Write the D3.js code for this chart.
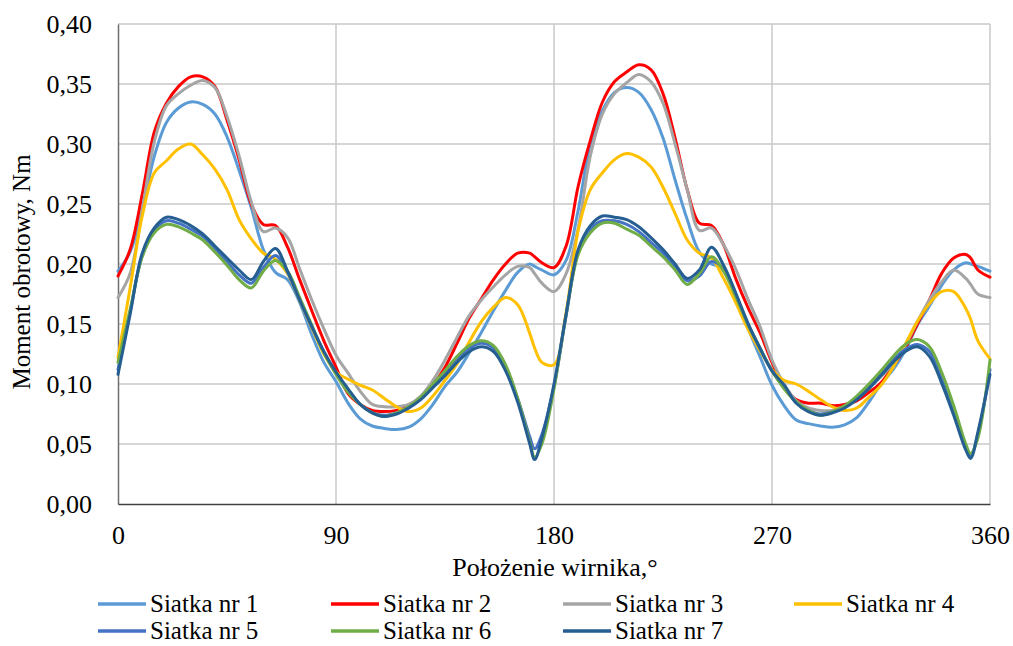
<!DOCTYPE html>
<html>
<head>
<meta charset="utf-8">
<script src="https://cdn.jsdelivr.net/npm/d3@7/dist/d3.min.js"></script>
<style>
  html, body { margin: 0; padding: 0; background: #fff; }
  svg { display: block; }
  svg text { font-family: "Liberation Serif", "Times New Roman", Tinos, "Nimbus Roman", "DejaVu Serif", serif; fill: #000; }
</style>
</head>
<body>
<svg id="chart" width="1013" height="646"></svg>
<script>
// Rotor angle, degrees
const angles = [0,5,10,15,20,25,30,35,40,45,50,55,60,65,70,75,80,85,90,95,100,105,110,115,120,125,130,135,140,145,150,155,160,165,170,172,175,180,185,190,195,200,205,210,215,220,225,230,235,240,245,250,255,260,265,270,275,280,285,290,295,300,305,310,315,320,325,330,335,340,345,350,352,355,360];

// Torque, Nm, for each mesh
const siatka1 = [0.194,0.210,0.245,0.290,0.318,0.330,0.335,0.333,0.325,0.306,0.278,0.247,0.212,0.193,0.187,0.168,0.141,0.118,0.102,0.084,0.071,0.065,0.063,0.062,0.064,0.071,0.083,0.098,0.110,0.126,0.143,0.161,0.178,0.193,0.200,0.198,0.195,0.191,0.203,0.245,0.300,0.328,0.343,0.347,0.343,0.329,0.305,0.270,0.237,0.210,0.200,0.197,0.172,0.147,0.123,0.099,0.082,0.070,0.067,0.065,0.064,0.066,0.072,0.085,0.100,0.112,0.128,0.149,0.165,0.182,0.195,0.201,0.200,0.198,0.194];
const siatka2 = [0.190,0.212,0.258,0.310,0.334,0.348,0.356,0.356,0.348,0.320,0.287,0.250,0.233,0.232,0.214,0.187,0.161,0.136,0.114,0.092,0.083,0.078,0.077,0.078,0.081,0.088,0.099,0.114,0.134,0.155,0.171,0.187,0.200,0.209,0.209,0.206,0.201,0.197,0.215,0.265,0.303,0.335,0.352,0.360,0.366,0.362,0.342,0.305,0.262,0.234,0.232,0.216,0.188,0.164,0.143,0.118,0.097,0.087,0.084,0.084,0.082,0.083,0.086,0.093,0.101,0.115,0.130,0.150,0.170,0.192,0.205,0.208,0.205,0.195,0.189];
const siatka3 = [0.172,0.192,0.245,0.302,0.332,0.342,0.349,0.353,0.347,0.323,0.290,0.252,0.227,0.230,0.222,0.196,0.170,0.146,0.124,0.109,0.094,0.083,0.081,0.081,0.083,0.090,0.103,0.120,0.139,0.157,0.170,0.181,0.191,0.198,0.197,0.192,0.184,0.177,0.192,0.230,0.290,0.325,0.342,0.351,0.358,0.352,0.334,0.300,0.262,0.228,0.230,0.216,0.196,0.171,0.148,0.120,0.100,0.086,0.080,0.078,0.078,0.081,0.088,0.097,0.106,0.117,0.132,0.152,0.170,0.185,0.195,0.188,0.183,0.175,0.172];
const siatka4 = [0.122,0.180,0.240,0.276,0.286,0.296,0.300,0.291,0.279,0.262,0.237,0.221,0.209,0.204,0.192,0.170,0.147,0.125,0.110,0.104,0.099,0.095,0.088,0.081,0.077,0.080,0.090,0.103,0.117,0.135,0.152,0.164,0.172,0.166,0.142,0.130,0.118,0.116,0.160,0.228,0.262,0.276,0.287,0.292,0.289,0.281,0.264,0.242,0.220,0.209,0.205,0.188,0.168,0.146,0.128,0.112,0.103,0.100,0.094,0.087,0.081,0.078,0.080,0.089,0.099,0.114,0.133,0.152,0.167,0.177,0.177,0.163,0.154,0.136,0.121];
const siatka5 = [0.112,0.160,0.207,0.228,0.236,0.234,0.229,0.223,0.213,0.202,0.191,0.184,0.197,0.207,0.193,0.171,0.148,0.127,0.109,0.095,0.083,0.076,0.074,0.076,0.080,0.088,0.098,0.109,0.121,0.130,0.134,0.130,0.114,0.088,0.056,0.046,0.058,0.098,0.157,0.210,0.229,0.236,0.236,0.233,0.227,0.218,0.209,0.197,0.186,0.190,0.202,0.196,0.174,0.150,0.130,0.111,0.097,0.085,0.078,0.075,0.077,0.081,0.088,0.098,0.109,0.120,0.129,0.133,0.127,0.105,0.077,0.047,0.040,0.058,0.112];
const siatka6 = [0.118,0.162,0.206,0.226,0.233,0.231,0.226,0.220,0.210,0.199,0.187,0.180,0.194,0.203,0.194,0.172,0.149,0.126,0.108,0.093,0.083,0.076,0.073,0.076,0.081,0.089,0.100,0.111,0.123,0.132,0.136,0.132,0.116,0.088,0.052,0.039,0.050,0.096,0.158,0.208,0.226,0.234,0.234,0.229,0.224,0.215,0.206,0.195,0.183,0.192,0.206,0.194,0.173,0.150,0.130,0.111,0.096,0.085,0.078,0.074,0.077,0.082,0.090,0.100,0.111,0.123,0.133,0.137,0.131,0.110,0.082,0.050,0.042,0.055,0.120];
const siatka7 = [0.108,0.158,0.209,0.230,0.239,0.237,0.232,0.225,0.215,0.205,0.195,0.187,0.202,0.213,0.194,0.170,0.148,0.127,0.110,0.096,0.083,0.076,0.073,0.075,0.080,0.087,0.097,0.107,0.118,0.127,0.131,0.127,0.111,0.085,0.050,0.037,0.055,0.100,0.158,0.212,0.232,0.240,0.239,0.237,0.231,0.222,0.212,0.200,0.188,0.195,0.214,0.199,0.176,0.151,0.130,0.111,0.099,0.084,0.077,0.074,0.076,0.080,0.087,0.096,0.107,0.118,0.127,0.131,0.123,0.101,0.074,0.045,0.038,0.060,0.108];

const seriesNames = ["Siatka nr 1","Siatka nr 2","Siatka nr 3","Siatka nr 4","Siatka nr 5","Siatka nr 6","Siatka nr 7"];
const seriesValues = [siatka1, siatka2, siatka3, siatka4, siatka5, siatka6, siatka7];
const seriesColors = ["#5B9BD5","#FF0000","#A5A5A5","#FFC000","#4472C4","#70AD47","#255E91"];

const xTicks = [0, 90, 180, 270, 360];
const yTicks = [0, 0.05, 0.10, 0.15, 0.20, 0.25, 0.30, 0.35, 0.40];

const xTitle = "Położenie wirnika,°";
const yTitle = "Moment obrotowy, Nm";

const svg = d3.select("#chart");
const plot = { left: 118, right: 990, top: 24, bottom: 504 };

const x = d3.scaleLinear().domain([0, 360]).range([plot.left, plot.right]);
const y = d3.scaleLinear().domain([0, 0.40]).range([plot.bottom, plot.top]);

const fmt = v => d3.format(".2f")(v).replace(".", ",");

// horizontal gridlines
svg.append("g")
  .selectAll("line")
  .data(yTicks.filter(t => t > 0))
  .join("line")
  .attr("x1", plot.left).attr("x2", plot.right)
  .attr("y1", d => y(d)).attr("y2", d => y(d))
  .attr("stroke", "#C8C8C8").attr("stroke-width", 1.5);

// vertical gridlines
svg.append("g")
  .selectAll("line")
  .data(xTicks.filter(t => t > 0))
  .join("line")
  .attr("x1", d => x(d)).attr("x2", d => x(d))
  .attr("y1", plot.top).attr("y2", plot.bottom)
  .attr("stroke", "#C8C8C8").attr("stroke-width", 1.5);

// y axis
const yAxis = svg.append("g")
  .attr("transform", `translate(${plot.left},0)`)
  .call(d3.axisLeft(y).tickValues(yTicks).tickFormat(fmt).tickSize(0).tickPadding(26));
yAxis.attr("font-family", null);
yAxis.select(".domain").attr("stroke", "#6E6E6E").attr("stroke-width", 1.5);
yAxis.selectAll("text").attr("font-size", 26);

// x axis
const xAxis = svg.append("g")
  .attr("transform", `translate(0,${plot.bottom})`)
  .call(d3.axisBottom(x).tickValues(xTicks).tickFormat(d3.format("d")).tickSize(0).tickPadding(22));
xAxis.attr("font-family", null);
xAxis.select(".domain").attr("stroke", "#404040").attr("stroke-width", 1.5);
xAxis.selectAll("text").attr("font-size", 26);

// series lines
const line = d3.line()
  .x((d, i) => x(angles[i]))
  .y(d => y(d))
  .curve(d3.curveCatmullRom.alpha(0.5));

svg.append("g")
  .selectAll("path")
  .data(seriesValues)
  .join("path")
  .attr("d", d => line(d))
  .attr("fill", "none")
  .attr("stroke", (d, i) => seriesColors[i])
  .attr("stroke-width", 3)
  .attr("stroke-linejoin", "round")
  .attr("stroke-linecap", "round");

// axis titles
svg.append("text")
  .attr("x", 555).attr("y", 576)
  .attr("text-anchor", "middle")
  .attr("font-size", 26)
  .text(xTitle);

svg.append("text")
  .attr("transform", "translate(30,272) rotate(-90)")
  .attr("text-anchor", "middle")
  .attr("font-size", 25)
  .text(yTitle);

// legend
const legendPos = [
  { lx: 98, ly: 604 }, { lx: 331, ly: 604 }, { lx: 563, ly: 604 }, { lx: 794, ly: 604 },
  { lx: 98, ly: 631 }, { lx: 331, ly: 631 }, { lx: 563, ly: 631 }
];
const legend = svg.append("g")
  .selectAll("g")
  .data(seriesNames)
  .join("g")
  .attr("transform", (d, i) => `translate(${legendPos[i].lx},${legendPos[i].ly})`);
legend.append("line")
  .attr("x1", 0).attr("x2", 48).attr("y1", 0).attr("y2", 0)
  .attr("stroke", (d, i) => seriesColors[i])
  .attr("stroke-width", 3.5);
legend.append("text")
  .attr("x", 52).attr("y", 0).attr("dy", "0.33em")
  .attr("font-size", 25)
  .text(d => d);
</script>
</body>
</html>
